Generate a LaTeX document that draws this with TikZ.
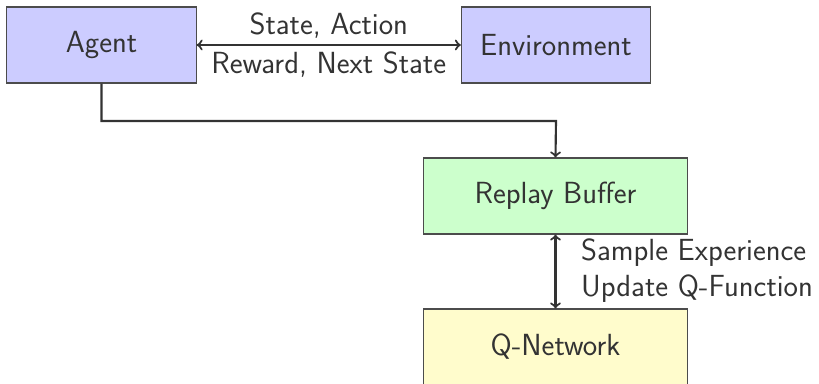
\documentclass[tikz,border=0pt]{standalone}
\usetikzlibrary{calc}
\begin{document}
\begin{tikzpicture}[x=0.5625pt,y=-0.5625pt,
  every node/.style={font=\sffamily\fontsize{17.2}{20.4}\selectfont, text=black!80},
  box/.style={draw=black!70, line width=0.6pt, minimum width=106.5pt, minimum height=42.75pt, inner sep=0pt},
  wbox/.style={box, minimum width=149pt},
  conn/.style={draw=black!80, line width=1.2pt}]
\useasboundingbox (0,0) rectangle (819,384);
\node[box, fill=blue!20] (agent) at (101.5,45) {Agent};
\node[box, fill=blue!20] (env) at (556,45) {Environment};
\node[wbox, fill=green!20] (replay) at (555.5,196) {Replay Buffer};
\node[wbox, fill=yellow!20] (qnet) at (555.5,347) {Q-Network};
\coordinate (bend) at (556,121);
\draw[conn,<->] (agent.east) -- node[above, yshift=0pt] {State, Action} node[below, yshift=0pt] {Reward, Next State} (env.west);
\draw[conn,->] (agent.south) -- (agent.south |- bend) -- (bend) -- (replay.north);
\draw[conn,<->] (replay.south) -- node[right, xshift=10.5pt, yshift=0.5pt, align=left] {Sample Experience\\Update Q-Function} (qnet.north);
\end{tikzpicture}
\end{document}
